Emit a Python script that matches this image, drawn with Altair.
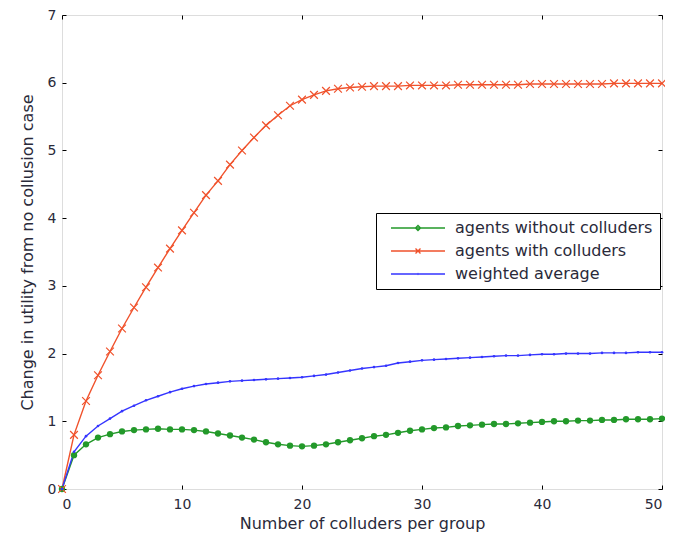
import altair as alt
import pandas as pd

# ---- data ----
x_vals = list(range(51))

series_names = ["agents without colluders", "agents with colluders", "weighted average"]
series_colors = ["#23992a", "#f0522c", "#3535ff"]

without_colluders = [
    0.00, 0.50, 0.66, 0.76, 0.81, 0.85, 0.87, 0.88, 0.89, 0.88,
    0.88, 0.87, 0.85, 0.82, 0.79, 0.76, 0.73, 0.69, 0.66, 0.64,
    0.63, 0.64, 0.66, 0.69, 0.72, 0.75, 0.78, 0.80, 0.83, 0.86,
    0.88, 0.90, 0.91, 0.93, 0.94, 0.95, 0.96, 0.96, 0.97, 0.98,
    0.99, 1.00, 1.00, 1.01, 1.01, 1.02, 1.02, 1.03, 1.03, 1.03,
    1.04,
]
with_colluders = [
    0.00, 0.80, 1.30, 1.68, 2.03, 2.37, 2.68, 2.98, 3.27, 3.55,
    3.82, 4.08, 4.34, 4.55, 4.79, 5.00, 5.19, 5.37, 5.52, 5.66,
    5.75, 5.82, 5.88, 5.91, 5.93, 5.94, 5.95, 5.95, 5.95, 5.96,
    5.96, 5.96, 5.96, 5.97, 5.97, 5.97, 5.97, 5.97, 5.97, 5.98,
    5.98, 5.98, 5.98, 5.98, 5.98, 5.98, 5.99, 5.99, 5.99, 5.99,
    5.99,
]
weighted_average = [
    0.00, 0.55, 0.78, 0.93, 1.04, 1.15, 1.23, 1.31, 1.37, 1.43,
    1.48, 1.52, 1.55, 1.57, 1.59, 1.60, 1.61, 1.62, 1.63, 1.64,
    1.65, 1.67, 1.69, 1.72, 1.75, 1.78, 1.80, 1.82, 1.86, 1.88,
    1.90, 1.91, 1.92, 1.93, 1.94, 1.95, 1.96, 1.97, 1.97, 1.98,
    1.99, 1.99, 2.00, 2.00, 2.00, 2.01, 2.01, 2.01, 2.02, 2.02,
    2.02,
]

x_ticks = [0, 10, 20, 30, 40, 50]
y_ticks = [0, 1, 2, 3, 4, 5, 6, 7]

rows = []
for name, vals in zip(series_names, [without_colluders, with_colluders, weighted_average]):
    for xi, v in zip(x_vals, vals):
        rows.append({"x": xi, "y": v, "series": name})
df = pd.DataFrame(rows)

FONT = "DejaVu Sans"
TXT = "#2a2a3a"

x_main = alt.X(
    "x:Q",
    scale=alt.Scale(domain=[0, 50], nice=False, zero=False),
    axis=alt.Axis(
        title="Number of colluders per group", values=x_ticks, orient="bottom",
        offset=-4, tickSize=4, domain=False, grid=False, labelPadding=8,
        titlePadding=4, labelFontSize=14, titleFontSize=16, titleFontWeight="normal",
        labelColor=TXT, titleColor=TXT, tickColor="black", labelFont=FONT, titleFont=FONT,
    ),
)
y_main = alt.Y(
    "y:Q",
    scale=alt.Scale(domain=[0, 7], nice=False),
    axis=alt.Axis(
        title="Change in utility from no collusion case", values=y_ticks, orient="left",
        offset=-4, tickSize=4, domain=False, grid=False, labelPadding=6,
        titlePadding=12, labelFontSize=14, titleFontSize=16, titleFontWeight="normal",
        labelColor=TXT, titleColor=TXT, tickColor="black", labelFont=FONT, titleFont=FONT,
    ),
)

layers = []
for name, col in zip(series_names, series_colors):
    layers.append(
        alt.Chart(df).mark_line(color=col, strokeWidth=1.4)
        .encode(x=x_main, y=y_main)
        .transform_filter(alt.datum.series == name)
    )

# markers
layers.append(
    alt.Chart(df).mark_point(filled=True, shape="circle", size=40, color=series_colors[0], opacity=1)
    .encode(x=x_main, y=y_main)
    .transform_filter(alt.datum.series == series_names[0])
)
layers.append(
    alt.Chart(df).mark_point(filled=False, shape="M-1,-1L1,1M-1,1L1,-1", size=60,
                             color=series_colors[1], strokeWidth=1.2, opacity=1)
    .encode(x=x_main, y=y_main)
    .transform_filter(alt.datum.series == series_names[1])
)
layers.append(
    alt.Chart(df).mark_point(filled=True, shape="circle", size=7, color=series_colors[2], opacity=1)
    .encode(x=x_main, y=y_main)
    .transform_filter(alt.datum.series == series_names[2])
)

# legend-only layer (line + marker symbols)
legend_paths = [
    "M0,0L10.8,0M5.4,-0.5L5.9,0L5.4,0.5L4.9,0Z",
    "M0,0L10.8,0M4.9,-0.5L5.9,0.5M4.9,0.5L5.9,-0.5",
    "M0,0L10.8,0M5.3,-0.15L5.5,0.15M5.3,0.15L5.5,-0.15",
]
legend = alt.Legend(
    title=None, orient="none", legendX=314, legendY=198,
    strokeColor="black", fillColor="white", padding=7,
    labelFontSize=16, labelFont=FONT, labelColor=TXT, labelLimit=400,
    symbolSize=100, symbolStrokeWidth=1.4, labelOffset=56, rowPadding=7,
    symbolOpacity=1,
)
layers.append(
    alt.Chart(df).mark_point(filled=False, strokeWidth=1.4)
    .encode(
        x=x_main, y=y_main,
        color=alt.Color("series:N", scale=alt.Scale(domain=series_names, range=series_colors), legend=legend),
        shape=alt.Shape("series:N", scale=alt.Scale(domain=series_names, range=legend_paths), legend=legend),
    )
    .transform_filter("false")
)

main = alt.layer(*layers)

mirror = alt.Chart(df).mark_line(opacity=0).encode(
    x=alt.X("x:Q", scale=alt.Scale(domain=[0, 50], nice=False, zero=False),
            axis=alt.Axis(title=None, labels=False, values=x_ticks, orient="top", offset=-4,
                          tickSize=4, domain=False, grid=False, tickColor="black")),
    y=alt.Y("y:Q", scale=alt.Scale(domain=[0, 7], nice=False),
            axis=alt.Axis(title=None, labels=False, values=y_ticks, orient="right", offset=-4,
                          tickSize=4, domain=False, grid=False, tickColor="black")),
)

chart = (
    alt.layer(main, mirror)
    .resolve_axis(x="independent", y="independent")
    .properties(
        width=600, height=474,
        autosize=alt.AutoSizeParams(type="none"),
        padding={"left": 54, "top": 7, "right": 3, "bottom": 44},
    )
    .configure_view(stroke="#1a1a1a", strokeWidth=2)
    .configure(background="white")
)

chart.save("out.html", embed_options={"renderer": "svg", "actions": False})
